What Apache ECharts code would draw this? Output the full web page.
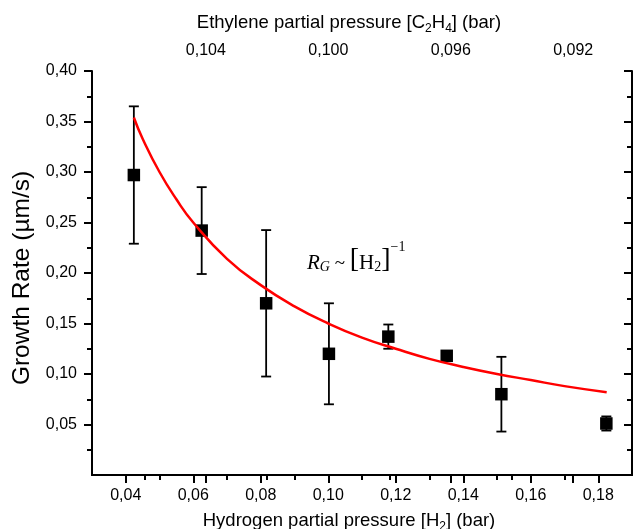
<!DOCTYPE html>
<html>
<head>
<meta charset="utf-8">
<script src="https://cdn.jsdelivr.net/npm/echarts@6/dist/echarts.min.js"></script>
<style>
  html, body { margin: 0; padding: 0; background: #fff; }
  #chart { width: 634px; height: 529px; }
</style>
</head>
<body>
<div id="chart"></div>
<script>
// Hydrogen partial pressure (bar) of each growth run
const h2Pressure = [0.0424, 0.0625, 0.0816, 0.1002, 0.1178, 0.1351, 0.1513, 0.1824];
// Measured growth rate (µm/s) and its error
const growthRate = [0.297, 0.242, 0.170, 0.120, 0.137, 0.118, 0.080, 0.051];
const growthErr  = [0.068, 0.043, 0.0725, 0.050, 0.012, 0, 0.037, 0.007];

// Fitted trend R_G ~ [H2]^-1, sampled along the curve
const fitH2   = [0.0424, 0.045, 0.050, 0.055, 0.060, 0.070, 0.080, 0.090, 0.100, 0.110, 0.120, 0.130, 0.140, 0.150, 0.160, 0.170, 0.1825];
const fitRate = [0.354, 0.333, 0.300, 0.273, 0.250, 0.214, 0.188, 0.167, 0.150, 0.136, 0.125, 0.115, 0.107, 0.100, 0.094, 0.088, 0.082];

// Tick values
const h2Ticks = [0.04, 0.06, 0.08, 0.10, 0.12, 0.14, 0.16, 0.18];
const h2MinorTicks = [0.05, 0.07, 0.09, 0.11, 0.13, 0.15, 0.17];
const ethyleneTicks = [0.104, 0.100, 0.096, 0.092];
const ethyleneMinorTicks = [0.106, 0.102, 0.098, 0.094];
const rateTicks = [0.05, 0.10, 0.15, 0.20, 0.25, 0.30, 0.35, 0.40];
const rateMinorTicks = [0.025, 0.075, 0.125, 0.175, 0.225, 0.275, 0.325, 0.375];

const SANS = '"Liberation Sans", Arial, sans-serif';
const SERIF = '"Liberation Serif", "Times New Roman", serif';
const comma = d => v => v.toFixed(d).replace('.', ',');

const line = { show: true, lineStyle: { color: '#000', width: 2 } };
const noLine = { show: false };
const labelStyle = { color: '#000', fontSize: 16, fontFamily: SANS };
const nameStyle = (size) => ({
  color: '#000', fontSize: size, fontFamily: SANS, lineHeight: 24, padding: [0, 26, 0, 0],
  rich: { sub: { fontSize: 12, fontFamily: SANS, color: '#000', lineHeight: 10, verticalAlign: 'bottom' } }
});

const H2_MIN = 0.03, H2_MAX = 0.19;
const C2H4_MIN = 0.09008, C2H4_MAX = 0.10772;
const RATE_MIN = 0, RATE_MAX = 0.40;

const chart = echarts.init(document.getElementById('chart'));

chart.setOption({
  animation: false,
  backgroundColor: '#fff',
  grid: { left: 92, right: 2, top: 71, bottom: 54, outerBoundsMode: 'none', containLabel: false },
  xAxis: [
    { // hydrogen, major ticks + labels
      type: 'value', position: 'bottom', min: H2_MIN, max: H2_MAX,
      axisLine: line, splitLine: { show: false },
      axisTick: { inside: false, length: 8, lineStyle: { width: 2, color: '#000' }, customValues: h2Ticks },
      axisLabel: Object.assign({ customValues: h2Ticks, margin: 13, formatter: comma(2) }, labelStyle),
      name: 'Hydrogen partial pressure [H{sub|2}] (bar)', nameLocation: 'middle', nameGap: 34,
      nameTextStyle: nameStyle(18.5)
    },
    { // ethylene, major ticks + labels
      type: 'value', position: 'top', inverse: true, min: C2H4_MIN, max: C2H4_MAX,
      axisLine: line, splitLine: { show: false },
      axisTick: { inside: true, length: 8, lineStyle: { width: 2, color: '#000' }, customValues: ethyleneTicks },
      axisLabel: Object.assign({ customValues: ethyleneTicks, margin: 12, formatter: comma(3) }, labelStyle),
      name: 'Ethylene partial pressure [C{sub|2}H{sub|4}] (bar)', nameLocation: 'middle', nameGap: 36,
      nameTextStyle: nameStyle(18.5)
    },
    { // hydrogen minor ticks
      type: 'value', position: 'bottom', min: H2_MIN, max: H2_MAX,
      axisLine: noLine, splitLine: { show: false }, axisLabel: { show: false },
      axisTick: { inside: false, length: 5, lineStyle: { width: 2, color: '#000' }, customValues: h2MinorTicks }
    },
    { // ethylene minor ticks
      type: 'value', position: 'top', inverse: true, min: C2H4_MIN, max: C2H4_MAX,
      axisLine: noLine, splitLine: { show: false }, axisLabel: { show: false },
      axisTick: { inside: true, length: 5, lineStyle: { width: 2, color: '#000' }, customValues: ethyleneMinorTicks }
    }
  ],
  yAxis: [
    {
      type: 'value', position: 'left', min: RATE_MIN, max: RATE_MAX,
      axisLine: line, splitLine: { show: false },
      axisTick: { inside: false, length: 8, lineStyle: { width: 2, color: '#000' }, customValues: rateTicks },
      axisLabel: Object.assign({ customValues: rateTicks, margin: 15, formatter: comma(2) }, labelStyle),
      name: 'Growth Rate (µm/s)', nameLocation: 'middle', nameGap: 50,
      nameTextStyle: { color: '#000', fontSize: 24.5, fontFamily: SANS, padding: [0, 10, 0, 0] }
    },
    {
      type: 'value', position: 'right', min: RATE_MIN, max: RATE_MAX,
      axisLine: line, splitLine: { show: false }, axisLabel: { show: false },
      axisTick: { inside: true, length: 8, lineStyle: { width: 2, color: '#000' }, customValues: rateTicks }
    },
    {
      type: 'value', position: 'left', min: RATE_MIN, max: RATE_MAX,
      axisLine: noLine, splitLine: { show: false }, axisLabel: { show: false },
      axisTick: { inside: false, length: 5, lineStyle: { width: 2, color: '#000' }, customValues: rateMinorTicks }
    },
    {
      type: 'value', position: 'right', min: RATE_MIN, max: RATE_MAX,
      axisLine: noLine, splitLine: { show: false }, axisLabel: { show: false },
      axisTick: { inside: true, length: 5, lineStyle: { width: 2, color: '#000' }, customValues: rateMinorTicks }
    }
  ],
  series: [
    {
      name: 'error', type: 'custom', xAxisIndex: 0, yAxisIndex: 0, z: 2,
      data: h2Pressure.map((x, i) => [x, growthRate[i], growthErr[i]]),
      renderItem(params, api) {
        const x = api.value(0), y = api.value(1), e = api.value(2);
        if (!e) return null;
        const top = api.coord([x, y + e]);
        const bot = api.coord([x, y - e]);
        const hw = 5;
        const st = { stroke: '#000', lineWidth: 1.8 };
        return {
          type: 'group',
          children: [
            { type: 'line', shape: { x1: top[0], y1: top[1], x2: bot[0], y2: bot[1] }, style: st },
            { type: 'line', shape: { x1: top[0] - hw, y1: top[1], x2: top[0] + hw, y2: top[1] }, style: st },
            { type: 'line', shape: { x1: bot[0] - hw, y1: bot[1], x2: bot[0] + hw, y2: bot[1] }, style: st }
          ]
        };
      }
    },
    {
      name: 'Growth rate', type: 'scatter', xAxisIndex: 0, yAxisIndex: 0, z: 3,
      symbol: 'rect', symbolSize: 12.5,
      itemStyle: { color: '#000', opacity: 1 },
      data: h2Pressure.map((x, i) => [x, growthRate[i]])
    },
    {
      name: 'Fit', type: 'line', xAxisIndex: 0, yAxisIndex: 0, z: 4,
      smooth: true, showSymbol: false, symbol: 'none',
      lineStyle: { color: '#ff0000', width: 2.5 },
      data: fitH2.map((x, i) => [x, fitRate[i]])
    }
  ],
  graphic: [
    {
      type: 'text', left: 307, top: 240, z: 10,
      style: {
        text: '{r|R}{g|G}{t| ~ }{b|[}{h|H}{s|2}{b|]}{p|−1}',
        fill: '#000',
        rich: {
          r: { fontFamily: SERIF, fontStyle: 'italic', fontSize: 21, lineHeight: 30, verticalAlign: 'bottom', fill: '#000' },
          g: { fontFamily: SERIF, fontStyle: 'italic', fontSize: 14, lineHeight: 17, verticalAlign: 'bottom', fill: '#000' },
          t: { fontFamily: SERIF, fontSize: 19, lineHeight: 30, verticalAlign: 'bottom', fill: '#000' },
          b: { fontFamily: SERIF, fontSize: 28, lineHeight: 34, verticalAlign: 'bottom', fill: '#000' },
          h: { fontFamily: SERIF, fontSize: 21, lineHeight: 30, verticalAlign: 'bottom', fill: '#000' },
          s: { fontFamily: SERIF, fontSize: 14, lineHeight: 17, verticalAlign: 'bottom', fill: '#000' },
          p: { fontFamily: SERIF, fontSize: 14, lineHeight: 26, verticalAlign: 'top', fill: '#000' }
        }
      }
    }
  ]
});
</script>
</body>
</html>
